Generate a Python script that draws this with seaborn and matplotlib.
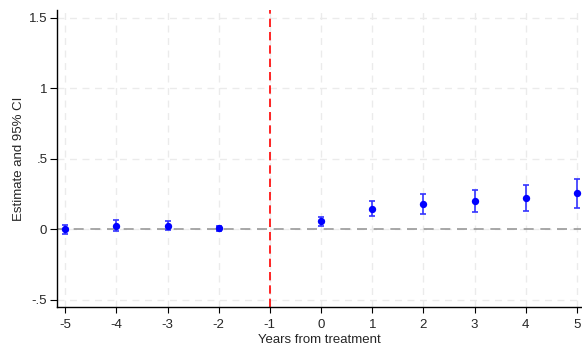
import matplotlib
matplotlib.use("Agg")
import matplotlib.pyplot as plt
import seaborn as sns
import pandas as pd

years = [-5, -4, -3, -2, 0, 1, 2, 3, 4, 5]
estimate = [0.0, 0.026, 0.026, 0.007, 0.055, 0.142, 0.180, 0.199, 0.223, 0.254]
ci_low = [-0.036, -0.014, -0.007, -0.012, 0.020, 0.092, 0.110, 0.123, 0.130, 0.152]
ci_high = [0.033, 0.062, 0.055, 0.026, 0.088, 0.199, 0.247, 0.277, 0.315, 0.356]
xticks = [-5, -4, -3, -2, -1, 0, 1, 2, 3, 4, 5]
yticks = [-0.5, 0, 0.5, 1, 1.5]
ytick_labels = ["-.5", "0", ".5", "1", "1.5"]

df = pd.DataFrame({"year": years, "est": estimate, "lo": ci_low, "hi": ci_high})

sns.set_style("white")
plt.rcParams["font.family"] = ["Liberation Sans", "DejaVu Sans"]

fig = plt.figure(figsize=(5.82, 3.46), dpi=100)
ax = fig.add_axes([57 / 582, 1 - 306.7 / 346, 1 - 57 / 582 - 1 / 582, (306.7 - 10) / 346])

for t in xticks:
    ax.axvline(t, color="#ebebeb", lw=1, ls=(0, (5, 4)), zorder=0)
for t in yticks:
    ax.axhline(t, color="#ebebeb", lw=1, ls=(0, (5, 4)), zorder=0)

ax.axhline(0, color="#999999", lw=1.2, ls=(0, (6, 4)), zorder=1)
ax.axvline(-1, color="#ff0000", lw=1.2, ls=(0, (5, 3)), zorder=1)

ax.errorbar(df["year"], df["est"],
            yerr=[df["est"] - df["lo"], df["hi"] - df["est"]],
            fmt="none", ecolor="#3333ff", elinewidth=1.2, capsize=2.5, capthick=1.2, zorder=2)
sns.scatterplot(data=df, x="year", y="est", ax=ax, color="#0000ff", s=28,
                edgecolor="#0000ff", linewidth=0, zorder=3)

ax.set_xlim(-5.16, 5.08)
ax.set_ylim(-0.55, 1.556)
ax.set_xticks(xticks)
ax.set_xticklabels([str(t) for t in xticks], fontsize=9.5)
ax.set_yticks(yticks)
ax.set_yticklabels(ytick_labels, fontsize=9.5)
ax.set_xlabel("Years from treatment", fontsize=9.5, labelpad=2)
ax.set_ylabel("Estimate and 95% CI", fontsize=9.5, labelpad=3)
ax.tick_params(axis="x", length=4, width=0.8, color="black", pad=5, direction="out", bottom=True)
ax.tick_params(axis="y", length=5, width=0.8, color="black", pad=2, direction="out", left=True)

for s in ["top", "right"]:
    ax.spines[s].set_visible(False)
for s in ["left", "bottom"]:
    ax.spines[s].set_color("black")
    ax.spines[s].set_linewidth(1)

fig.savefig("out.png", dpi=100)
